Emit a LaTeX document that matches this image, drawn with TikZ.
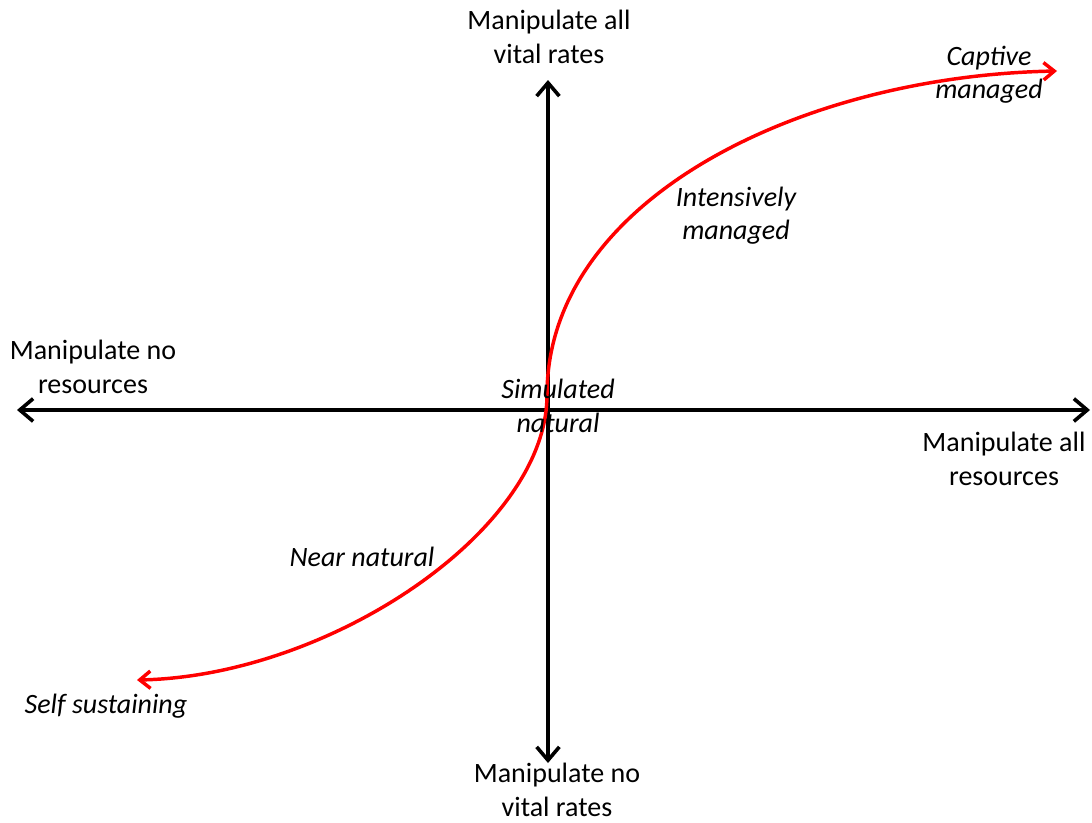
\documentclass[tikz,border=0pt]{standalone}
\usepackage{fontspec}
\setmainfont{Carlito}
\usetikzlibrary{arrows.meta}
\begin{document}
\begin{tikzpicture}[x=0.75pt,y=-0.75pt,
  axis/.style={line width=2.7pt,black,{Straight Barb[length=10pt,width=17pt]}-{Straight Barb[length=10pt,width=17pt]}},
  path curve/.style={line width=2.6pt,red,{Straight Barb[length=8pt,width=13pt]}-{Straight Barb[length=8pt,width=13pt]}},
  axislabel/.style={align=center,inner sep=0pt,font=\fontsize{21}{25}\selectfont},
  stage/.style={align=center,inner sep=0pt,font=\fontsize{21}{25}\selectfont\itshape}]
\useasboundingbox (0,0) rectangle (1092,822);

% axes
\coordinate (xl) at (17,410);
\coordinate (xr) at (1090,410);
\coordinate (yt) at (548,80);
\coordinate (yb) at (548,763);
\draw[axis] (xl) -- (xr);
\draw[axis] (yt) -- (yb);

% axis labels
\node[axislabel] (top) at (549,37) {Manipulate all\\vital rates};
\node[axislabel] (bottom) at (557,790) {Manipulate no\\vital rates};
\node[axislabel] (left) at (93,367) {Manipulate no\\resources};
\node[axislabel] (right) at (1004,459) {Manipulate all\\resources};

% management trajectory: two cubic pieces meeting with a vertical tangent
\coordinate (ss) at (137,680);
\coordinate (sn) at (547,395);
\coordinate (cm) at (1057,71);
\draw[path curve] (ss) .. controls (330,676) and (547,530) .. (sn)
  .. controls (547,200) and (800,76) .. (cm);

% stage labels
\node[stage] (captive) at (989,75) {Cap\kern0pt tive\\managed};
\node[stage] (intensive) at (736,216) {Intensively\\managed};
\node[stage] (simulated) at (558,406) {Simulated\\natural};
\node[stage] (near) at (362,557) {Near natural};
\node[stage] (self) at (106,706) {Self sustaining};
\end{tikzpicture}
\end{document}
